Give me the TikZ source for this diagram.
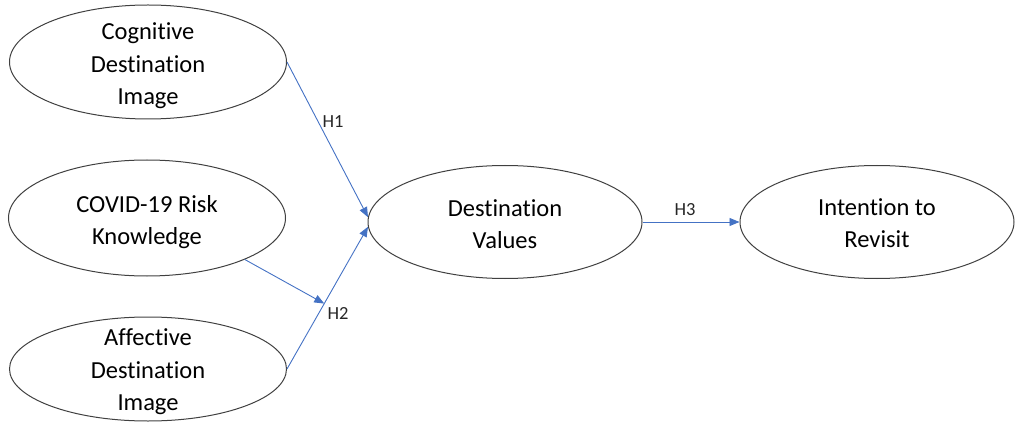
\documentclass[tikz,border=0pt]{standalone}
\usepackage{fontspec}
\setmainfont[Ligatures=NoCommon]{Carlito}
\usetikzlibrary{shapes.geometric,arrows.meta,calc}
\definecolor{arrowblue}{RGB}{68,114,196}
\begin{document}
\begin{tikzpicture}[x=1pt,y=-1pt,
  construct/.style={ellipse,draw=black!75,line width=1pt,inner sep=0pt,
    minimum width=277pt,minimum height=114pt},
  ctext/.style={align=center,inner sep=0pt,font=\fontsize{24.5}{32.5}\selectfont},
  hpath/.style={draw=arrowblue,line width=0.9pt,-{Triangle[length=10pt,width=8pt]}},
  hlab/.style={font=\fontsize{18.5}{20}\selectfont,text=black!85,inner sep=0pt}]
\useasboundingbox (0,0) rectangle (1017,422);
\node[construct,label={[ctext,yshift=-4pt]center:Cognitive\\Destination\\Image}] (cog) at (148,62) {};
\node[construct,minimum height=116pt,label={[ctext,yshift=-4pt]center:COVID-19 Risk\\Knowledge}] (cov) at (147,218) {};
\node[construct,minimum height=104pt,label={[ctext,yshift=-3pt]center:Affective\\Destination\\Image}] (aff) at (148,369) {};
\node[construct,minimum width=274pt,minimum height=113pt,label={[ctext,yshift=-2pt]center:Destination\\Values}] (dv) at (505,222) {};
\node[construct,minimum width=274pt,minimum height=113pt,label={[ctext,yshift=-1pt]center:Intention to\\Revisit}] (iv) at (877,222) {};
\coordinate (m) at ($(aff.east)!0.46!(dv.182)$);
\draw[hpath] (cog.east) -- (dv.178);
\draw[hpath] (aff.east) -- (dv.182);
\draw[hpath] (cov.-23) -- (m);
\draw[hpath] (dv.east) -- (iv.west);
\node[hlab] (h1) at (333,122) {H1};
\node[hlab] (h2) at (338,313) {H2};
\node[hlab] (h3) at (685,210) {H3};
\end{tikzpicture}
\end{document}
